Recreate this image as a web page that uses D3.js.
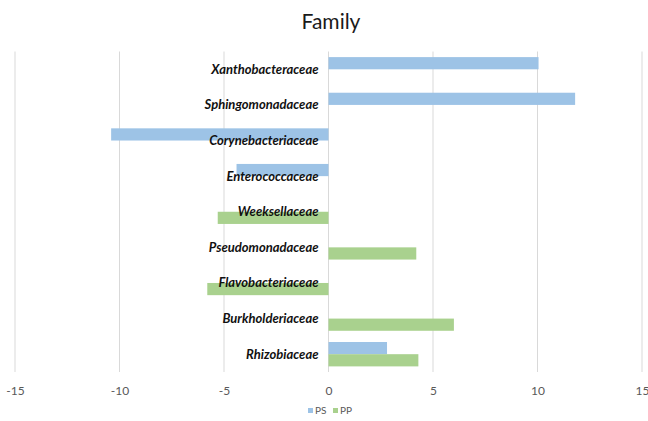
<!DOCTYPE html>
<html>
<head>
<meta charset="utf-8">
<script src="https://cdn.jsdelivr.net/npm/d3@7"></script>
<style>
  html, body { margin: 0; padding: 0; background: #fff; }
  svg { display: block; }
</style>
</head>
<body>
<svg id="chart" width="648" height="421"></svg>
<script>
// Families, top to bottom
const families = [
  "Xanthobacteraceae", "Sphingomonadaceae", "Corynebacteriaceae", "Enterococcaceae",
  "Weeksellaceae", "Pseudomonadaceae", "Flavobacteriaceae", "Burkholderiaceae", "Rhizobiaceae"
];
// Series values per family (null = no bar)
const psValues = [10.05, 11.8, -10.4, -4.4, null, null, null, null, 2.8];
const ppValues = [null, null, null, null, -5.3, 4.2, -5.8, 6.0, 4.3];
const seriesNames = ["PS", "PP"];
const seriesColors = ["#9dc3e6", "#a9d18e"];
const xTicks = [-15, -10, -5, 0, 5, 10, 15];

const svg = d3.select("#chart");
const W = 648, H = 421;
const margin = { top: 51.5, bottom: 49, left: 15, right: 6 };

const x = d3.scaleLinear().domain([-15, 15]).range([margin.left, W - margin.right]);
const y = d3.scaleBand().domain(families).range([margin.top, H - margin.bottom]).padding(0);
const ySub = d3.scaleBand().domain(seriesNames).range([0, y.bandwidth()])
  .paddingInner(0).paddingOuter(0.46);

// Title
svg.append("text")
  .attr("x", 331).attr("y", 29)
  .attr("text-anchor", "middle")
  .attr("font-family", "Lato, 'Open Sans', sans-serif")
  .attr("font-size", 21)
  .attr("fill", "#1a1a1a")
  .text("Family");

// Vertical gridlines
svg.append("g")
  .selectAll("line")
  .data(xTicks)
  .join("line")
  .attr("x1", d => x(d)).attr("x2", d => x(d))
  .attr("y1", margin.top).attr("y2", H - margin.bottom)
  .attr("stroke", "#d9d9d9").attr("stroke-width", 1);

// Bars
const rows = [];
families.forEach((f, i) => {
  [psValues[i], ppValues[i]].forEach((v, s) => {
    if (v !== null) rows.push({ family: f, series: seriesNames[s], value: v, color: seriesColors[s] });
  });
});

svg.append("g")
  .selectAll("rect")
  .data(rows)
  .join("rect")
  .attr("x", d => Math.min(x(0), x(d.value)))
  .attr("width", d => Math.abs(x(d.value) - x(0)))
  .attr("y", d => y(d.family) + ySub(d.series))
  .attr("height", ySub.bandwidth())
  .attr("fill", d => d.color);

// Category labels, right-aligned next to zero
svg.append("g")
  .selectAll("text")
  .data(families)
  .join("text")
  .attr("x", x(0) - 10)
  .attr("y", d => y(d) + y.bandwidth() / 2 + 4.5)
  .attr("text-anchor", "end")
  .attr("font-family", "Lato, 'Open Sans', sans-serif")
  .attr("font-size", 13)
  .attr("font-weight", "bold")
  .attr("font-style", "italic")
  .attr("fill", "#111")
  .text(d => d);

// X axis tick labels (plain hyphen minus)
const xAxis = d3.axisBottom(x).tickValues(xTicks).tickSize(0).tickPadding(0)
  .tickFormat(d => String(d));
const gx = svg.append("g")
  .attr("transform", `translate(0,${H - margin.bottom})`)
  .call(xAxis);
gx.select(".domain").remove();
gx.selectAll("text")
  .attr("y", 14)
  .attr("font-family", "Lato, 'Open Sans', sans-serif")
  .attr("font-size", 12)
  .attr("fill", "#595959");

// Legend
const legend = svg.append("g").attr("transform", "translate(308,408)");
const items = [{ name: "PS", color: seriesColors[0], dx: 0 }, { name: "PP", color: seriesColors[1], dx: 25 }];
items.forEach(it => {
  legend.append("rect")
    .attr("x", it.dx).attr("y", 0).attr("width", 5).attr("height", 5)
    .attr("fill", it.color);
  legend.append("text")
    .attr("x", it.dx + 7).attr("y", 6)
    .attr("font-family", "Lato, 'Open Sans', sans-serif")
    .attr("font-size", 10)
    .attr("fill", "#595959")
    .text(it.name);
});
</script>
</body>
</html>
